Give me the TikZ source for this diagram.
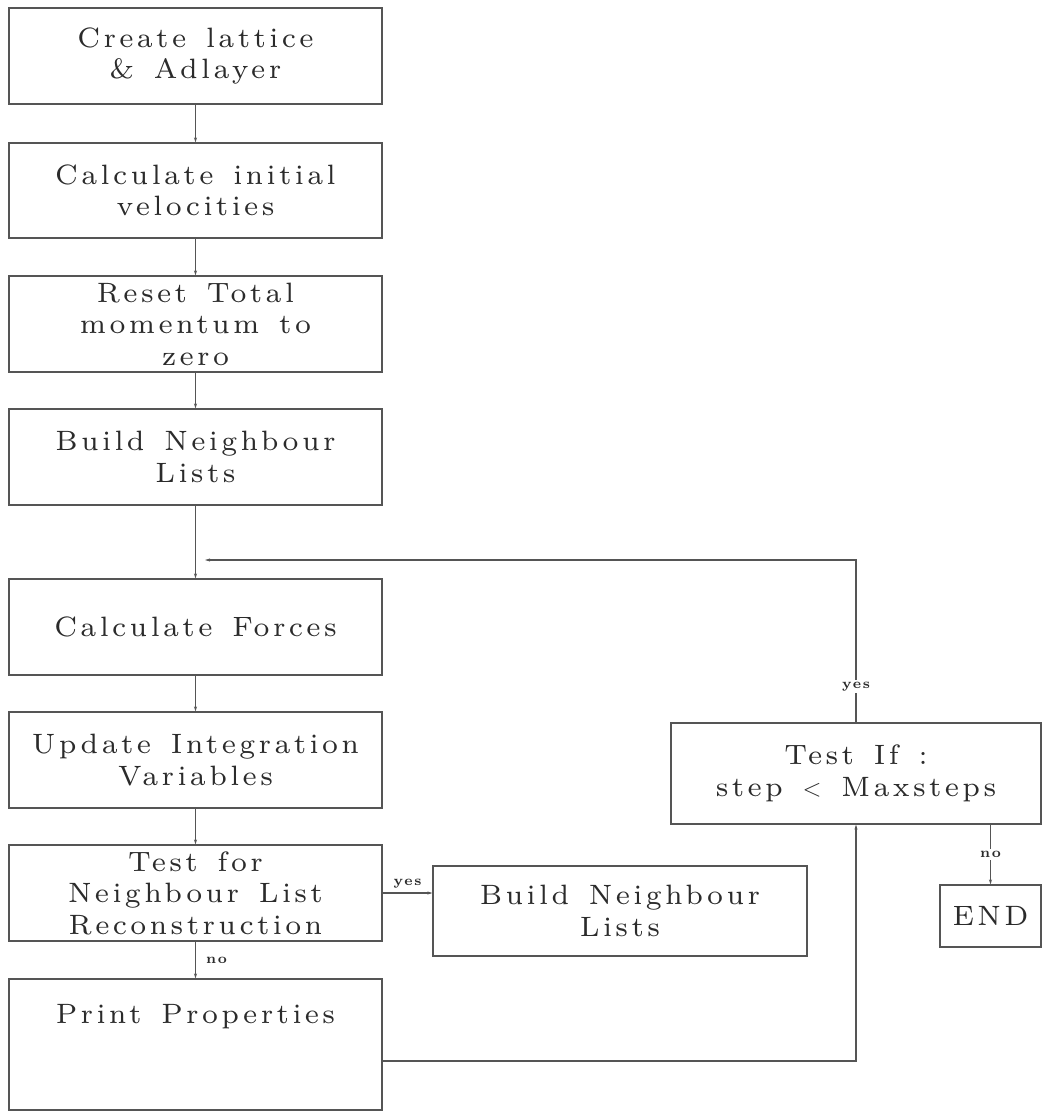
\documentclass[tikz,border=0pt]{standalone}
\usepackage{fontspec}
\setmainfont{lmroman7-regular}[Extension=.otf, BoldFont=lmroman7-bold, LetterSpace=12, WordSpace=1.4]
\usetikzlibrary{arrows.meta}
\definecolor{linegray}{HTML}{555555}
\definecolor{textgray}{HTML}{2B2B2B}

\begin{document}
\begin{tikzpicture}[x=1pt,y=-1pt]
\tikzstyle{every node}+=[inner sep=0pt]
\tikzstyle{box}=[draw=linegray, line width=1.1pt, minimum width=373pt, align=center, text=textgray, font=\fontsize{28}{31.5}\selectfont]
\tikzstyle{boxtext}=[align=center, text=textgray, font=\fontsize{28}{31.5}\selectfont]
\tikzstyle{conn}=[draw=linegray, line width=1.1pt, -{Stealth[length=5pt,width=3pt]}]
\tikzstyle{lbl}=[text=textgray, font=\fontsize{14}{16}\selectfont\bfseries]
\useasboundingbox (0,0) rectangle (1042,1112);
% main column
\node [box, minimum height=96pt] (lattice) at (195.5,56) {Create lattice\\\& Adlayer};
\node [box, minimum height=95pt] (velo) at (195.5,190.5) {Calculate initial\\velocities};
\node [box, minimum height=96pt] (reset) at (195.5,324) {Reset Total\\momentum to\\zero};
\node [box, minimum height=96pt] (build) at (195.5,457) {Build Neighbour\\Lists};
\node [box, minimum height=96pt] (forces) at (195.5,627) {Calculate Forces};
\node [box, minimum height=96pt] (update) at (195.5,760) {Update Integration\\Variables};
\node [box, minimum height=96pt] (testnb) at (195.5,893) {Test for\\Neighbour List\\Reconstruction};
\node [box, minimum height=131pt] (print) at (195.5,1044.5) {};
\node [boxtext] (printtxt) at (195.5,1017) {Print Properties};
% right side
\node [box, minimum width=374pt, minimum height=90pt] (rebuild) at (620,911) {Build Neighbour\\Lists};
\node [box, minimum width=370pt, minimum height=101pt] (maxtest) at (856,773.5) {Test If :\\step $<$ Maxsteps};
\node [box, minimum width=101pt, minimum height=62pt] (finish) at (990.5,916) {END};
\coordinate (loopend) at (205,560);
% connectors
\draw [conn] (lattice) -- (velo);
\draw [conn] (velo) -- (reset);
\draw [conn] (reset) -- (build);
\draw [conn] (build) -- (forces);
\draw [conn] (forces) -- (update);
\draw [conn] (update) -- (testnb);
\draw [conn] (testnb) -- node [lbl, right=10pt] {no} (print);
\draw [conn] (testnb.east) -- node [lbl, above=4pt] {yes} (testnb.east -| rebuild.west);
\draw [conn] ([yshift=-16.5pt]print.east) -| (maxtest.south);
\draw [conn] (maxtest.north) -- node [lbl, fill=white, inner sep=2pt, pos=0.22] {yes} (maxtest.north |- loopend) -- (loopend);
\draw [conn] (finish.north |- maxtest.south) -- node [lbl, fill=white, inner sep=2pt] {no} (finish.north);
\end{tikzpicture}
\end{document}
